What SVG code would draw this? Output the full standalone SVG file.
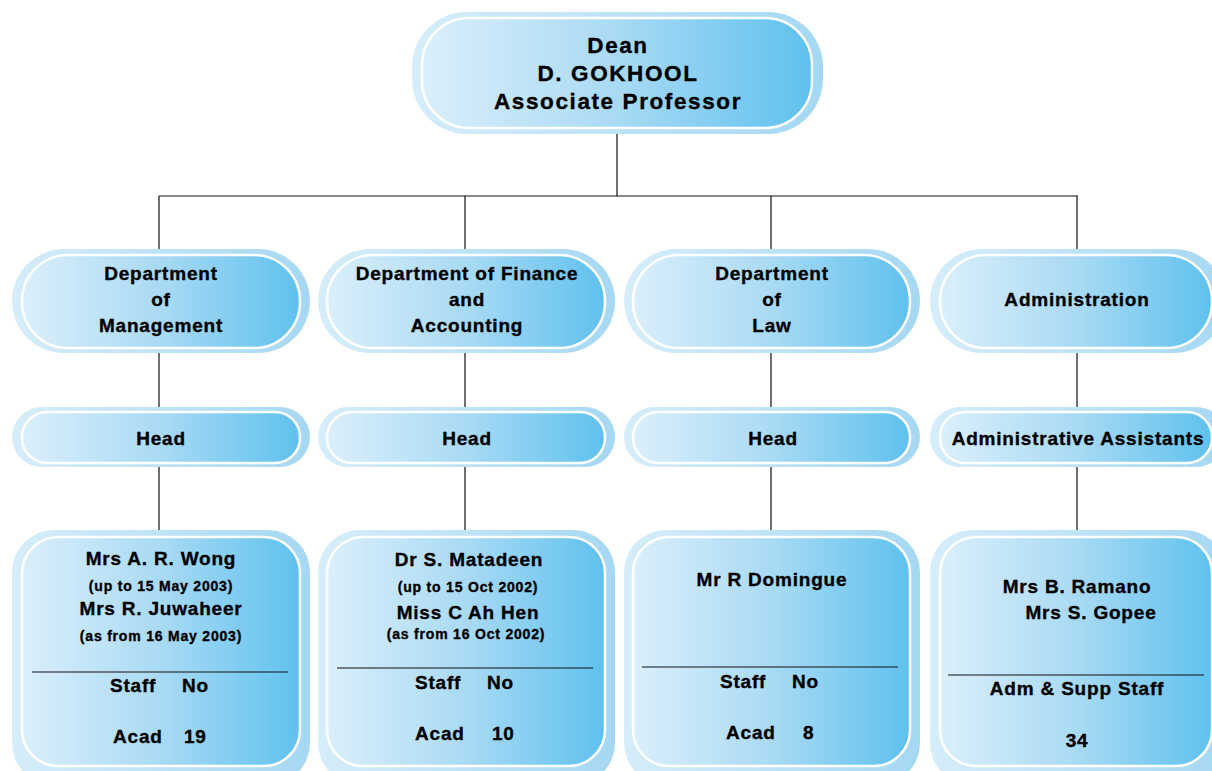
<svg xmlns="http://www.w3.org/2000/svg" width="1212" height="771" viewBox="0 0 1212 771">
<defs>
<linearGradient id="fillG" x1="0" y1="0" x2="1" y2="0">
<stop offset="0" stop-color="#dbeffb"/>
<stop offset="0.5" stop-color="#a9daf4"/>
<stop offset="1" stop-color="#5fc1ee"/>
</linearGradient>
<linearGradient id="haloG" x1="0" y1="0" x2="1" y2="0">
<stop offset="0" stop-color="#d6edfa"/>
<stop offset="1" stop-color="#a6d8f3"/>
</linearGradient>
</defs>
<style>
.halo{fill:url(#haloG)}
.body{fill:url(#fillG);stroke:#ffffff;stroke-width:2.5}
.t{font-family:"Liberation Sans",Arial,sans-serif;font-weight:bold;fill:#000;stroke:#000;stroke-width:0.35;text-anchor:middle}
.ts{font-family:"Liberation Sans",Arial,sans-serif;font-weight:bold;fill:#000;stroke:#000;stroke-width:0.35}
.d{font-size:22.5px;letter-spacing:1.6px}
.m{font-size:19px;letter-spacing:0.8px}
.s{font-size:14px;letter-spacing:0.8px}
.conn{stroke:#111;stroke-width:1.2;fill:none}
.sep{stroke:#111;stroke-width:1.2}
</style>
<g id="connectors">
<path class="conn" d="M617 133V196M159 196H1078M159 196V250M465 196V250M771 196V250M1077 196V250"/>
<path class="conn" d="M159 353V408M465 353V408M771 353V408M1077 353V408"/>
<path class="conn" d="M159 467V531M465 467V531M771 467V531M1077 467V531"/>
</g>
<g id="dean">
<rect class="halo" x="412" y="12" width="411" height="122" rx="55"/>
<rect class="body" x="422" y="18" width="390" height="110" rx="47"/>
<text class="t d" x="618" y="53">Dean</text>
<text class="t d" x="618" y="81">D. GOKHOOL</text>
<text class="t d" x="618" y="109">Associate Professor</text>
</g>
<g id="dept-management">
<rect class="halo" x="12" y="249" width="298" height="104" rx="52"/>
<rect class="body" x="22" y="255" width="278" height="93" rx="46"/>
<text class="t m" x="161" y="280">Department</text>
<text class="t m" x="161" y="306">of</text>
<text class="t m" x="161" y="332">Management</text>
</g>
<g id="dept-finance">
<rect class="halo" x="318" y="249" width="297" height="104" rx="52"/>
<rect class="body" x="327" y="255" width="278" height="93" rx="46"/>
<text class="t m" x="467" y="280">Department of Finance</text>
<text class="t m" x="467" y="306">and</text>
<text class="t m" x="467" y="332">Accounting</text>
</g>
<g id="dept-law">
<rect class="halo" x="624" y="249" width="296" height="104" rx="52"/>
<rect class="body" x="633" y="255" width="277" height="93" rx="46"/>
<text class="t m" x="772" y="280">Department</text>
<text class="t m" x="772" y="306">of</text>
<text class="t m" x="772" y="332">Law</text>
</g>
<g id="administration">
<rect class="halo" x="930" y="249" width="296" height="104" rx="52"/>
<rect class="body" x="940" y="255" width="272" height="93" rx="46"/>
<text class="t m" x="1077" y="306">Administration</text>
</g>
<g id="head-management">
<rect class="halo" x="12" y="407" width="298" height="60" rx="30"/>
<rect class="body" x="22" y="412" width="278" height="51" rx="25"/>
<text class="t m" x="161" y="445">Head</text>
</g>
<g id="head-finance">
<rect class="halo" x="318" y="407" width="297" height="60" rx="30"/>
<rect class="body" x="327" y="412" width="278" height="51" rx="25"/>
<text class="t m" x="467" y="445">Head</text>
</g>
<g id="head-law">
<rect class="halo" x="624" y="407" width="296" height="60" rx="30"/>
<rect class="body" x="633" y="412" width="277" height="51" rx="25"/>
<text class="t m" x="773" y="445">Head</text>
</g>
<g id="admin-assistants">
<rect class="halo" x="930" y="407" width="296" height="60" rx="30"/>
<rect class="body" x="940" y="412" width="272" height="51" rx="25"/>
<text class="t m" x="1078" y="445">Administrative Assistants</text>
</g>
<g id="staff-management">
<rect class="halo" x="12" y="530" width="298" height="255" rx="42"/>
<rect class="body" x="22" y="537" width="278" height="229" rx="36"/>
<text class="t m" x="161" y="565">Mrs A. R. Wong</text>
<text class="t s" x="161" y="591">(up to 15 May 2003)</text>
<text class="t m" x="161" y="615">Mrs R. Juwaheer</text>
<text class="t s" x="161" y="641">(as from 16 May 2003)</text>
<line class="sep" x1="32" y1="672" x2="288" y2="672"/>
<text class="ts m" x="110" y="692">Staff</text>
<text class="ts m" x="182" y="692">No</text>
<text class="ts m" x="113" y="743">Acad</text>
<text class="ts m" x="184" y="743">19</text>
</g>
<g id="staff-finance">
<rect class="halo" x="318" y="530" width="297" height="255" rx="42"/>
<rect class="body" x="327" y="537" width="278" height="229" rx="36"/>
<text class="t m" x="469" y="566">Dr S. Matadeen</text>
<text class="t s" x="468" y="592">(up to 15 Oct 2002)</text>
<text class="t m" x="468" y="619">Miss C Ah Hen</text>
<text class="t s" x="466" y="639">(as from 16 Oct 2002)</text>
<line class="sep" x1="337" y1="668" x2="593" y2="668"/>
<text class="ts m" x="415" y="689">Staff</text>
<text class="ts m" x="487" y="689">No</text>
<text class="ts m" x="415" y="740">Acad</text>
<text class="ts m" x="492" y="740">10</text>
</g>
<g id="staff-law">
<rect class="halo" x="624" y="530" width="296" height="255" rx="42"/>
<rect class="body" x="633" y="537" width="277" height="229" rx="36"/>
<text class="t m" x="772" y="586">Mr R Domingue</text>
<line class="sep" x1="642" y1="667" x2="898" y2="667"/>
<text class="ts m" x="720" y="688">Staff</text>
<text class="ts m" x="792" y="688">No</text>
<text class="ts m" x="726" y="739">Acad</text>
<text class="ts m" x="803" y="739">8</text>
</g>
<g id="staff-admin">
<rect class="halo" x="930" y="530" width="296" height="255" rx="42"/>
<rect class="body" x="940" y="537" width="272" height="229" rx="36"/>
<text class="t m" x="1077" y="593">Mrs B. Ramano</text>
<text class="t m" x="1091" y="619">Mrs S. Gopee</text>
<line class="sep" x1="948" y1="675" x2="1204" y2="675"/>
<text class="t m" x="1077" y="695">Adm &amp; Supp Staff</text>
<text class="t m" x="1077" y="747">34</text>
</g>
</svg>
